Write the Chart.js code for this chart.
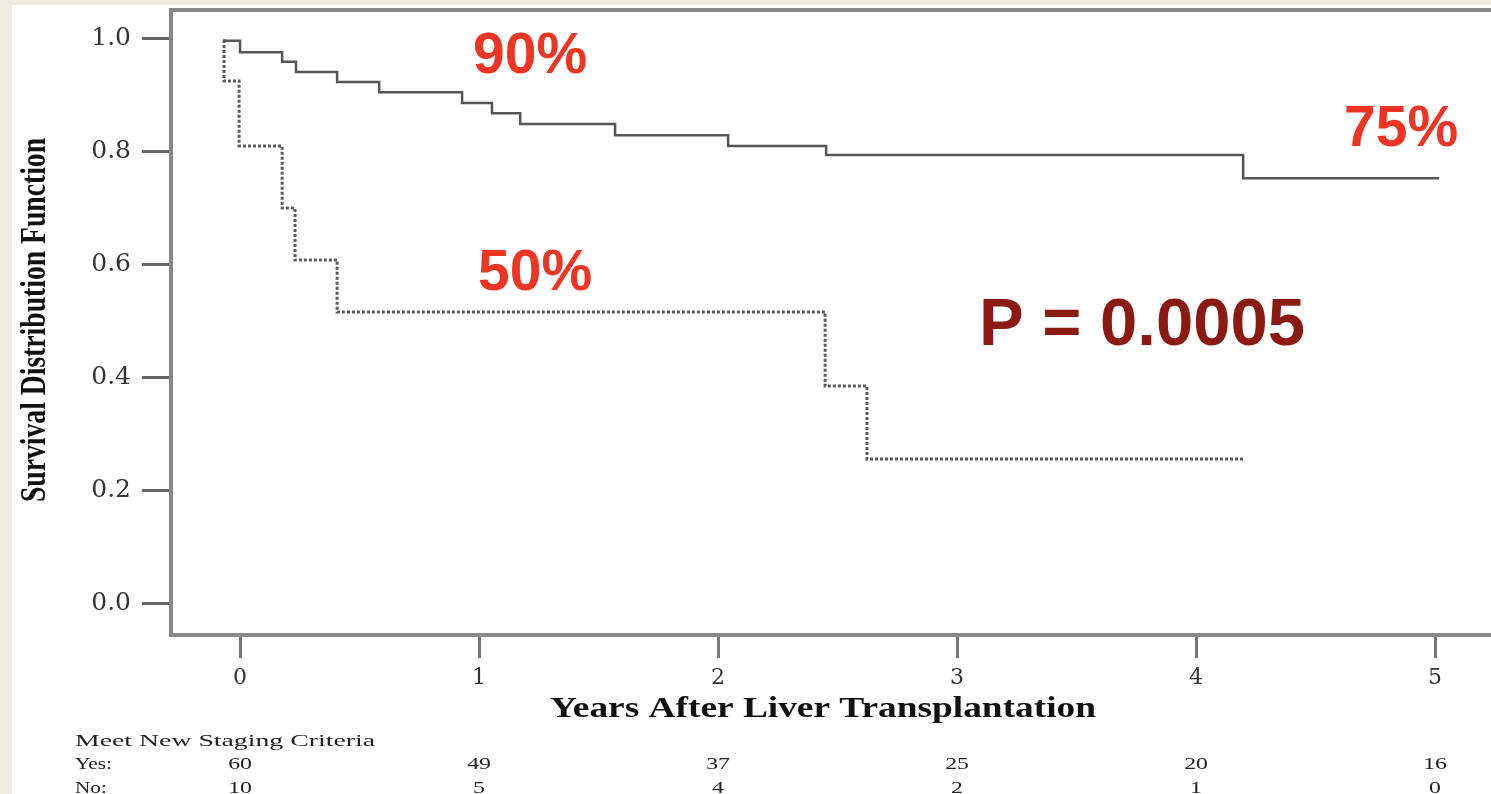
<!DOCTYPE html>
<html>
<head>
<meta charset="utf-8">
<script src="https://cdn.jsdelivr.net/npm/chart.js@4.4.1/dist/chart.umd.min.js"></script>
<style>
  html, body { margin: 0; padding: 0; background: #eeebe0; overflow: hidden; }
  #wrap { position: absolute; left: 12px; top: 5px; width: 1479px; height: 789px; background: #fff; }
</style>
</head>
<body>
<div id="wrap"><canvas id="km" width="1479" height="789"></canvas></div>
<script>
// step times (years after transplant) and survival right after each step
const yesTimes = [-0.071, 0.0, 0.176, 0.234, 0.406, 0.582, 0.929, 1.054, 1.172, 1.569, 2.042, 2.452, 4.197, 5.017]
const yesSurvival = [0.995, 0.975, 0.958, 0.940, 0.922, 0.904, 0.885, 0.867, 0.848, 0.828, 0.809, 0.793, 0.752, 0.752]
const noTimes = [-0.071, -0.067, -0.004, 0.176, 0.230, 0.406, 2.448, 2.623, 4.197]
const noSurvival = [0.995, 0.924, 0.809, 0.699, 0.607, 0.515, 0.384, 0.255, 0.255]

const xTicks = [0, 1, 2, 3, 4, 5]
const yTicks = [0.0, 0.2, 0.4, 0.6, 0.8, 1.0]

// numbers at risk under each year tick
const riskHeader = 'Meet New Staging Criteria'
const riskGroups = ['Yes:', 'No:']
const atRiskYes = [60, 49, 37, 25, 20, 16]
const atRiskNo = [10, 5, 4, 2, 1, 0]

const xTitle = 'Years After Liver Transplantation'
const yTitle = 'Survival Distribution Function'

// draw text squeezed or stretched horizontally
function drawText(ctx, text, x, y, sx, align) {
  ctx.save()
  ctx.translate(x, y)
  ctx.scale(sx, 1)
  ctx.textAlign = align
  ctx.fillText(text, 0, 0)
  ctx.restore()
}

const frame = {
  id: 'frame',
  afterDraw(chart) {
    const { ctx, chartArea } = chart
    ctx.save()
    ctx.strokeStyle = '#888'
    ctx.lineWidth = 4
    ctx.beginPath()
    ctx.moveTo(chartArea.left - 2, chartArea.top)
    ctx.lineTo(chartArea.right, chartArea.top)
    ctx.stroke()
    ctx.restore()
  }
}

const titles = {
  id: 'titles',
  afterDraw(chart) {
    const ctx = chart.ctx
    ctx.save()
    ctx.fillStyle = '#111'
    ctx.textBaseline = 'alphabetic'

    ctx.font = 'bold 36px "Liberation Serif"'
    let w = ctx.measureText(yTitle).width
    ctx.save()
    ctx.translate(33, 315)
    ctx.rotate(-Math.PI / 2)
    drawText(ctx, yTitle, 0, 0, 364 / w, 'center')
    ctx.restore()

    ctx.font = 'bold 29px "Liberation Serif"'
    w = ctx.measureText(xTitle).width
    drawText(ctx, xTitle, 811, 712, 546 / w, 'center')
    ctx.restore()
  }
}

const riskTable = {
  id: 'riskTable',
  afterDraw(chart) {
    const ctx = chart.ctx
    const x = chart.scales.x
    ctx.save()
    ctx.fillStyle = '#222'
    ctx.textBaseline = 'alphabetic'
    ctx.font = '17px "Liberation Serif"'
    const w = ctx.measureText(riskHeader).width
    drawText(ctx, riskHeader, 63, 741, 300 / w, 'left')
    drawText(ctx, riskGroups[0], 63, 764, 1.25, 'left')
    drawText(ctx, riskGroups[1], 63, 788, 1.25, 'left')
    xTicks.forEach((t, i) => {
      const px = x.getPixelForValue(t)
      drawText(ctx, String(atRiskYes[i]), px, 764, 1.4, 'center')
      drawText(ctx, String(atRiskNo[i]), px, 788, 1.4, 'center')
    })
    ctx.restore()
  }
}

const notes = {
  id: 'notes',
  afterDraw(chart) {
    const ctx = chart.ctx
    ctx.save()
    ctx.textAlign = 'left'
    ctx.textBaseline = 'alphabetic'
    ctx.fillStyle = '#ee3524'
    ctx.font = 'bold 57px "Liberation Sans"'
    ctx.fillText('90%', 461, 68)
    ctx.fillText('50%', 466, 285)
    ctx.fillText('75%', 1332, 141)
    ctx.fillStyle = '#8b1a12'
    ctx.font = 'bold 67px "Liberation Sans"'
    ctx.fillText('P = 0.0005', 967, 340)
    ctx.restore()
  }
}

const ctx = document.getElementById('km').getContext('2d')
new Chart(ctx, {
  type: 'line',
  data: {
    datasets: [
      {
        label: 'Yes',
        data: yesTimes.map((t, i) => ({ x: t, y: yesSurvival[i] })),
        borderColor: '#555',
        borderWidth: 2.5,
        stepped: true,
        pointRadius: 0,
        fill: false
      },
      {
        label: 'No',
        data: noTimes.map((t, i) => ({ x: t, y: noSurvival[i] })),
        borderColor: '#5a5a5a',
        borderWidth: 3,
        borderDash: [3, 2],
        stepped: true,
        pointRadius: 0,
        fill: false
      }
    ]
  },
  options: {
    responsive: false,
    animation: false,
    devicePixelRatio: 1,
    events: [],
    layout: { padding: { top: 5, left: 0, right: 0, bottom: 0 } },
    plugins: {
      legend: { display: false },
      tooltip: { enabled: false }
    },
    scales: {
      x: {
        type: 'linear',
        min: -0.289,
        max: 5.234,
        afterBuildTicks: s => { s.ticks = xTicks.map(v => ({ value: v })) },
        afterFit: s => { s.height = 159; s.paddingLeft = 0; s.paddingRight = 0 },
        ticks: {
          autoSkip: false,
          maxRotation: 0,
          padding: 7,
          color: '#333',
          font: { family: 'DejaVu Serif', size: 22 },
          callback: v => String(v)
        },
        grid: { drawOnChartArea: false, tickLength: 23, tickWidth: 3, tickColor: '#777' },
        border: { color: '#888', width: 4 }
      },
      y: {
        min: -0.0566,
        max: 1.0496,
        afterBuildTicks: s => { s.ticks = yTicks.map(v => ({ value: v })) },
        afterFit: s => { s.width = 159; s.paddingTop = 0; s.paddingBottom = 0 },
        ticks: {
          padding: 11,
          color: '#333',
          font: { family: 'DejaVu Serif', size: 25 },
          callback: v => v.toFixed(1)
        },
        grid: { drawOnChartArea: false, tickLength: 29, tickWidth: 3, tickColor: '#666' },
        border: { color: '#888', width: 4 }
      }
    }
  },
  plugins: [frame, titles, riskTable, notes]
})
</script>
</body>
</html>
